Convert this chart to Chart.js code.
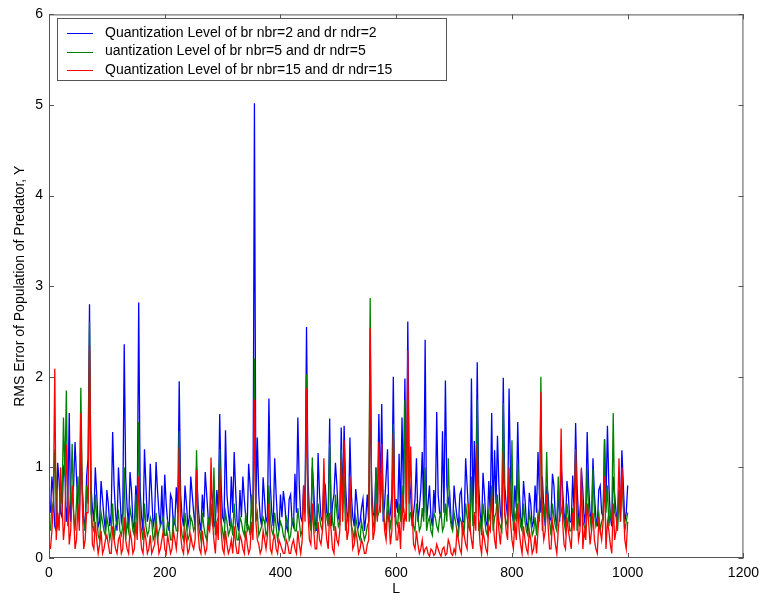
<!DOCTYPE html>
<html>
<head>
<meta charset="utf-8">
<script src="https://cdn.jsdelivr.net/npm/chart.js@4"></script>
<style>
  html, body { margin: 0; padding: 0; background: #fff; }
  #wrap { width: 766px; height: 602px; }
</style>
</head>
<body>
<div id="wrap"><canvas id="rmsChart" width="766" height="602"></canvas></div>
<script>
// L sample positions (every 2.5 steps)
const stepL = Array.from({ length: 400 }, (_, i) => 2.5 * (i + 1));

const seriesLabels = [
  "Quantization Level of br nbr=2 and dr ndr=2",
  "uantization Level of br nbr=5 and dr ndr=5",
  "Quantization Level of br nbr=15 and dr ndr=15",
];

// nbr=2 (blue), 20 values per row = 50 steps of L
const rmsN2 = [
  0.5,0.9,0.7,0.35,0.3,1.05,0.85,0.5,0.45,1.0,0.95,0.4,0.6,1.6,0.4,0.7,0.8,1.28,0.9,0.55,
  0.4,1.2,0.75,0.45,0.3,0.9,1.1,2.8,0.8,0.55,0.4,1.0,0.7,0.35,0.4,0.85,0.65,0.45,0.3,0.75,
  0.6,0.35,0.5,1.39,0.8,0.5,0.3,1.0,0.7,0.4,0.5,2.36,0.9,0.55,0.35,0.95,0.75,0.4,0.3,0.8,
  0.5,2.82,0.75,0.45,0.3,1.2,0.8,0.4,0.5,1.04,0.7,0.35,0.45,1.06,0.75,0.5,0.35,0.8,0.3,0.92,
  0.6,0.4,0.3,0.7,0.65,0.35,0.4,0.78,0.5,1.95,0.7,0.45,0.35,0.8,0.6,0.35,0.45,0.9,0.7,0.5,
  0.35,1.0,0.6,0.4,0.3,0.7,0.45,0.95,0.7,0.45,0.35,0.8,0.65,0.35,0.4,0.75,0.5,1.59,0.8,0.45,
  0.4,1.41,0.7,0.5,0.35,0.9,0.5,1.17,0.75,0.4,0.3,0.75,0.45,0.9,0.65,0.45,0.35,1.04,0.8,0.55,
  0.4,5.02,0.6,1.33,0.7,0.45,0.35,0.89,0.65,0.4,0.45,1.76,0.8,0.5,0.35,1.1,0.7,0.4,0.3,0.7,
  0.45,0.74,0.6,0.35,0.3,0.65,0.7,0.4,0.35,0.93,0.5,1.55,0.8,0.45,0.4,0.8,0.6,2.55,0.9,0.5,
  0.35,1.0,0.75,0.4,0.3,1.16,0.7,0.45,0.4,0.85,0.8,0.5,0.45,1.54,0.35,0.6,0.7,1.05,0.8,0.45,
  0.4,1.44,0.6,1.46,0.8,0.5,0.4,1.33,0.7,0.45,0.35,0.76,0.6,0.35,0.4,0.55,0.65,0.3,0.45,0.7,
  0.4,1.9,0.8,0.5,0.45,1.0,0.5,1.59,0.7,1.7,0.4,0.6,0.9,1.2,0.4,0.5,0.7,2.0,0.45,0.65,
  0.5,1.15,0.45,1.55,0.7,1.98,0.5,2.61,0.9,0.7,0.35,0.5,0.65,1.1,0.4,0.55,0.75,1.17,0.5,2.41,
  0.4,0.6,0.8,0.45,0.35,0.75,0.5,1.61,0.7,0.5,0.45,1.4,0.5,1.96,0.8,0.6,0.7,0.4,0.35,0.8,
  0.6,0.45,0.35,0.7,0.75,0.4,0.4,1.1,0.8,0.5,0.45,1.98,0.5,1.29,0.6,2.16,0.8,0.5,0.35,0.94,
  0.7,0.4,0.35,0.85,0.5,1.6,0.45,1.19,0.6,1.35,0.8,0.5,0.4,1.99,0.8,0.6,0.45,1.87,0.9,0.5,
  0.4,0.8,0.55,1.5,0.75,0.45,0.35,0.85,0.65,0.4,0.3,0.72,0.6,0.35,0.4,0.8,0.5,1.17,0.7,0.5,
  0.9,0.55,0.35,0.8,0.7,0.4,0.45,0.93,0.8,0.45,0.35,0.75,0.4,1.04,0.75,0.5,0.35,0.85,0.7,0.4,
  0.4,0.91,0.5,1.49,0.8,0.45,0.35,0.98,0.75,0.4,0.5,1.39,0.8,0.5,0.4,1.1,0.7,0.45,0.35,0.75,
  0.8,0.5,0.45,1.31,0.6,1.46,0.8,0.45,0.35,0.9,0.7,0.5,0.4,0.75,0.5,1.19,0.8,0.4,0.5,0.8,
];

// nbr=5 (green)
const rmsN5 = [
  0.3,0.6,0.5,1.2,0.8,0.35,0.4,0.7,0.6,1.55,0.9,1.85,0.35,0.5,0.7,1.26,0.5,0.3,0.6,0.9,
  0.5,1.88,0.8,0.4,0.3,0.8,0.6,2.6,0.5,0.35,0.3,0.7,0.45,0.25,0.2,0.5,0.4,0.3,0.25,0.45,
  0.35,0.2,0.3,0.6,0.2,0.35,0.4,0.5,0.3,0.25,0.35,1.0,0.2,0.4,0.3,0.55,0.45,0.3,0.25,0.7,
  0.3,1.5,0.4,0.3,0.2,0.6,0.35,0.25,0.3,0.45,0.4,0.2,0.25,0.5,0.2,0.3,0.35,0.4,0.45,0.25,
  0.25,0.4,0.35,0.2,0.2,0.45,0.4,0.3,0.3,1.4,0.4,0.25,0.2,0.5,0.35,0.2,0.25,0.45,0.4,0.3,
  0.35,1.19,0.4,0.3,0.2,0.5,0.35,0.25,0.2,0.45,0.3,0.6,0.35,1.0,0.25,0.4,0.45,1.2,0.4,0.3,
  0.2,0.5,0.4,0.25,0.3,0.4,0.25,0.6,0.35,0.2,0.2,0.45,0.4,0.3,0.25,0.5,0.3,0.35,0.25,0.7,
  0.3,2.2,0.4,0.5,0.25,0.3,0.35,0.45,0.4,0.25,0.3,0.8,0.45,0.3,0.25,0.5,0.35,0.2,0.3,0.4,
  0.35,0.25,0.2,0.45,0.4,0.2,0.25,0.4,0.45,0.3,0.3,0.55,0.4,0.25,0.3,0.7,0.5,2.03,0.6,0.4,
  0.3,1.11,0.5,0.3,0.35,0.6,0.45,0.35,0.3,0.8,0.5,0.45,0.35,1.26,0.6,0.4,0.3,0.7,0.5,0.35,
  0.4,1.2,0.5,0.9,0.3,0.4,0.45,0.7,0.35,0.3,0.2,0.45,0.35,0.25,0.2,0.4,0.3,0.2,0.25,0.35,
  0.4,2.87,0.6,0.4,0.3,1.0,0.45,0.5,0.6,0.9,0.5,0.4,0.3,0.7,0.5,0.35,0.45,1.48,0.6,0.4,
  0.35,0.6,0.4,0.8,0.5,1.74,0.6,1.8,0.4,0.5,0.5,0.35,0.3,0.6,0.45,0.3,0.35,0.55,0.4,1.0,
  0.3,0.4,0.45,0.3,0.25,0.5,0.45,0.35,0.3,0.45,0.5,0.3,0.35,0.6,0.4,1.1,0.5,0.35,0.3,0.5,
  0.4,0.3,0.25,0.45,0.4,0.25,0.3,0.6,0.45,0.35,0.3,0.9,0.35,0.5,0.5,1.75,0.3,0.4,0.25,0.6,
  0.45,0.3,0.25,0.5,0.4,0.8,0.3,0.45,0.5,0.7,0.4,0.35,0.3,1.71,0.5,0.4,0.35,0.9,0.45,1.3,
  0.3,0.5,0.4,1.05,0.5,0.35,0.3,0.6,0.4,0.3,0.25,0.5,0.4,0.25,0.3,0.45,0.25,0.5,0.4,2.0,
  0.3,0.6,0.4,1.17,0.5,0.4,0.25,0.6,0.45,0.35,0.3,0.9,0.45,0.5,0.6,0.4,0.3,0.6,0.45,0.3,
  0.3,0.55,0.4,1.2,0.3,0.4,0.5,0.7,0.4,0.35,0.3,1.0,0.5,0.45,0.3,0.98,0.5,0.35,0.4,0.5,
  0.3,0.4,0.45,1.31,0.5,0.8,0.35,0.5,0.4,1.6,0.5,0.45,0.3,0.7,0.4,0.9,0.55,0.3,0.4,0.5,
];

// nbr=15 (red)
const rmsN15 = [
  0.1,0.3,0.6,2.09,0.2,0.5,0.3,1.0,0.6,0.2,0.4,1.25,0.7,0.15,0.3,0.8,0.5,0.1,0.2,0.6,
  0.3,1.6,0.6,0.1,0.2,0.5,0.5,2.35,0.8,0.15,0.1,0.4,0.2,0.05,0.15,0.3,0.05,0.1,0.2,0.25,
  0.15,0.05,0.05,0.35,0.2,0.1,0.05,0.2,0.25,0.05,0.1,0.45,0.2,0.1,0.05,0.3,0.2,0.05,0.1,0.4,
  0.2,0.9,0.3,0.1,0.05,0.3,0.2,0.05,0.1,0.25,0.05,0.1,0.15,0.35,0.25,0.05,0.1,0.2,0.3,0.1,
  0.05,0.25,0.15,0.05,0.1,0.3,0.2,0.1,0.3,1.22,0.25,0.1,0.05,0.3,0.2,0.05,0.1,0.25,0.15,0.1,
  0.2,0.97,0.3,0.1,0.05,0.3,0.15,0.05,0.1,0.35,0.3,1.11,0.4,0.2,0.05,0.4,0.2,1.0,0.3,0.1,
  0.05,0.3,0.15,0.05,0.1,0.2,0.05,0.35,0.15,0.05,0.05,0.25,0.2,0.1,0.05,0.3,0.15,0.05,0.1,0.4,
  0.2,1.75,0.4,0.2,0.15,0.05,0.1,0.3,0.2,0.1,0.25,0.6,0.1,0.05,0.2,0.25,0.1,0.05,0.2,0.15,
  0.1,0.05,0.05,0.2,0.15,0.05,0.05,0.15,0.2,0.1,0.05,0.3,0.15,0.05,0.2,0.8,0.4,1.87,0.5,0.2,
  0.15,0.6,0.3,0.1,0.1,0.4,0.2,0.15,0.3,1.1,0.4,0.2,0.1,0.5,0.3,0.1,0.05,0.35,0.2,0.15,
  0.3,1.1,0.4,1.3,0.6,0.2,0.3,0.9,0.4,0.1,0.15,0.3,0.2,0.05,0.1,0.2,0.15,0.05,0.05,0.15,
  0.2,2.54,0.7,0.2,0.3,0.6,0.4,1.28,0.5,1.26,0.6,0.3,0.2,0.5,0.4,0.15,0.3,1.37,0.5,0.2,
  0.2,0.4,0.1,0.7,0.3,0.5,0.4,2.29,0.6,1.23,0.5,0.15,0.1,0.3,0.15,0.05,0.1,0.2,0.05,0.1,
  0.12,0.05,0.02,0.1,0.08,0.03,0.05,0.15,0.1,0.05,0.02,0.1,0.12,0.03,0.05,0.2,0.15,0.05,0.03,0.1,
  0.05,0.3,0.2,0.1,0.05,0.4,0.25,0.15,0.1,0.6,0.35,0.2,0.1,0.5,0.3,1.26,0.4,0.15,0.05,0.3,
  0.2,0.1,0.05,0.35,0.3,0.7,0.4,0.2,0.1,0.6,0.3,0.15,0.4,1.17,0.5,0.3,0.2,1.0,0.4,0.2,
  0.1,0.4,0.2,0.6,0.3,0.15,0.05,0.35,0.2,0.1,0.05,0.3,0.2,0.05,0.1,0.25,0.05,0.3,0.5,1.83,
  0.4,0.2,0.3,0.7,0.35,0.1,0.1,0.4,0.3,0.15,0.05,0.3,0.5,1.43,0.4,0.15,0.1,0.45,0.3,0.2,
  0.1,0.5,0.3,1.2,0.5,0.2,0.3,1.0,0.1,0.3,0.2,0.6,0.4,0.15,0.3,0.5,0.2,0.1,0.05,0.4,
  0.3,0.2,0.4,0.9,0.1,0.4,0.3,0.15,0.05,0.6,0.2,0.3,0.5,1.1,0.4,1.0,0.6,0.2,0.1,0.4,
];

const seriesColors = ["#0000ff", "#008000", "#ff0000"];
const xTicks = [0, 200, 400, 600, 800, 1000, 1200];
const yTicks = [0, 1, 2, 3, 4, 5, 6];

const FONT = "'Liberation Sans', Arial, sans-serif";

const toPoints = (vals) => vals.map((v, i) => ({ x: stepL[i], y: v }));

// matlab style box, inward ticks and legend
const matlabBox = {
  id: "matlabBox",
  afterDraw(chart) {
    const { ctx, chartArea: a, scales } = chart;
    ctx.save();
    ctx.strokeStyle = "#555";
    ctx.lineWidth = 1;
    ctx.strokeRect(a.left + 0.5, a.top + 0.5, a.right - a.left - 1, a.bottom - a.top - 1);
    ctx.beginPath();
    xTicks.forEach((t) => {
      const px = Math.round(scales.x.getPixelForValue(t)) + 0.5;
      ctx.moveTo(px, a.bottom); ctx.lineTo(px, a.bottom - 5);
      ctx.moveTo(px, a.top); ctx.lineTo(px, a.top + 5);
    });
    yTicks.forEach((t) => {
      const py = Math.round(scales.y.getPixelForValue(t)) + 0.5;
      ctx.moveTo(a.left, py); ctx.lineTo(a.left + 5, py);
      ctx.moveTo(a.right, py); ctx.lineTo(a.right - 5, py);
    });
    ctx.stroke();

    // legend box
    const lx = 57, ly = 18, lw = 389, lh = 62;
    ctx.fillStyle = "#fff";
    ctx.fillRect(lx, ly, lw, lh);
    ctx.strokeStyle = "#555";
    ctx.strokeRect(lx + 0.5, ly + 0.5, lw, lh);
    ctx.font = "14px " + FONT;
    ctx.textBaseline = "middle";
    chart.data.datasets.forEach((ds, i) => {
      const y = ly + 15 + i * 18.5;
      ctx.strokeStyle = ds.borderColor;
      ctx.lineWidth = 1;
      ctx.beginPath();
      ctx.moveTo(67, Math.round(y) + 0.5);
      ctx.lineTo(93, Math.round(y) + 0.5);
      ctx.stroke();
      ctx.fillStyle = "#000";
      ctx.fillText(ds.label, 105, y);
    });
    ctx.restore();
  },
};

const ctx = document.getElementById("rmsChart").getContext("2d");
new Chart(ctx, {
  type: "line",
  data: {
    datasets: [
      { label: seriesLabels[0], data: toPoints(rmsN2), borderColor: seriesColors[0], order: 3 },
      { label: seriesLabels[1], data: toPoints(rmsN5), borderColor: seriesColors[1], order: 2 },
      { label: seriesLabels[2], data: toPoints(rmsN15), borderColor: seriesColors[2], order: 1 },
    ],
  },
  options: {
    responsive: false,
    animation: false,
    layout: { padding: { left: 8, right: 18, top: 13, bottom: 0 } },
    elements: {
      line: { borderWidth: 1.3, tension: 0 },
      point: { radius: 0 },
    },
    plugins: {
      legend: { display: false },
      tooltip: { enabled: false },
    },
    scales: {
      x: {
        type: "linear",
        min: 0,
        max: 1200,
        afterBuildTicks: (s) => { s.ticks = xTicks.map((v) => ({ value: v })); },
        afterFit: (s) => { s.height = 44; },
        grid: { display: false, drawTicks: false },
        border: { display: false },
        ticks: { color: "#000", padding: 7, font: { family: FONT, size: 14 }, maxRotation: 0, callback: (v) => String(v) },
        title: { display: true, text: "L", color: "#000", padding: { top: 0, bottom: 4 }, font: { family: FONT, size: 14 } },
      },
      y: {
        min: 0,
        max: 6,
        afterBuildTicks: (s) => { s.ticks = yTicks.map((v) => ({ value: v })); },
        afterFit: (s) => { s.width = 41; },
        grid: { display: false, drawTicks: false },
        border: { display: false },
        ticks: { color: "#000", padding: 6, font: { family: FONT, size: 14 }, callback: (v) => String(v) },
        title: { display: true, text: "RMS Error of Population of Predator, Y", color: "#000", padding: { top: 4, bottom: 0 }, font: { family: FONT, size: 14 } },
      },
    },
  },
  plugins: [matlabBox],
});
</script>
</body>
</html>
